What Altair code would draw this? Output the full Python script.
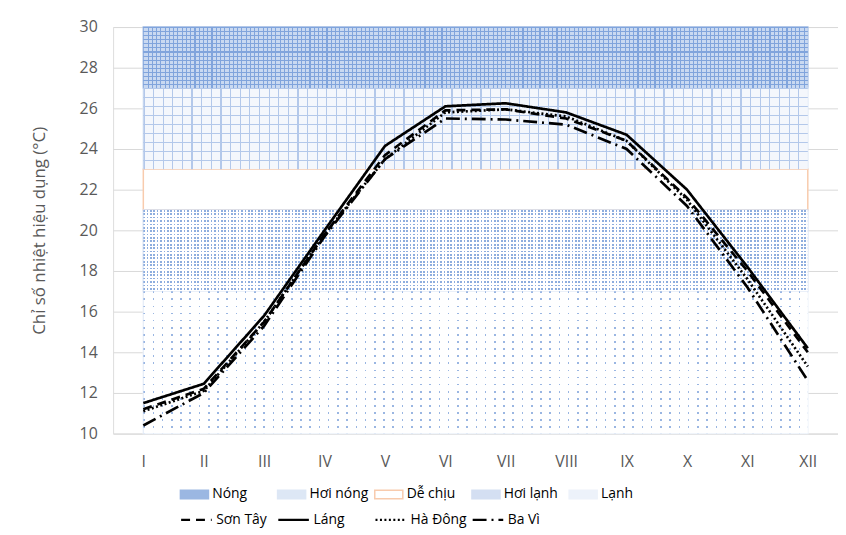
import altair as alt
import pandas as pd

months = ["I", "II", "III", "IV", "V", "VI", "VII", "VIII", "IX", "X", "XI", "XII"]
stations = ["Sơn Tây", "Láng", "Hà Đông", "Ba Vì"]
son_tay = [11.2, 12.2, 15.5, 19.8, 23.7, 25.9, 25.95, 25.5, 24.4, 21.6, 18.0, 14.0]
lang = [11.5, 12.45, 15.8, 20.0, 24.15, 26.1, 26.25, 25.8, 24.7, 22.0, 18.2, 14.2]
ha_dong = [11.1, 12.1, 15.5, 19.8, 23.5, 25.8, 25.95, 25.6, 24.4, 21.5, 17.6, 13.3]
ba_vi = [10.4, 12.0, 15.3, 19.7, 23.5, 25.5, 25.45, 25.2, 24.0, 21.2, 17.2, 12.6]

band_names = ["Nóng", "Hơi nóng", "Dễ chịu", "Hơi lạnh", "Lạnh"]
band_low = [27, 23, 21, 17, 10]
band_high = [30, 27, 23, 21, 17]
band_fill = ["#9bb7e2", "#dde7f5", "#ffffff", "#d4dff2", "#edf2fa"]
band_stroke = ["#9bb7e2", "#dde7f5", "#f8cbad", "#d4dff2", "#edf2fa"]

y_ticks = list(range(10, 31, 2))
dashes = [[9, 6], [1, 0], [2, 2.5], [14, 5, 2, 5]]

series = [son_tay, lang, ha_dong, ba_vi]
rows = []
for s, vals in zip(stations, series):
    for i, v in enumerate(vals):
        rows.append({"m": i + 1, "v": v, "station": s})
lines_df = pd.DataFrame(rows)

bands_df = pd.DataFrame({
    "band": band_names,
    "lo": band_low,
    "hi": band_high,
    "x0": [1] * len(band_names),
    "x1": [len(months)] * len(band_names),
})

label_expr = "[" + ",".join("'" + m + "'" for m in months) + "][datum.value - 1]"
FONT = "Open Sans"
W, H = 731, 410
STEP = W / len(months)
PX_PER_UNIT = H / 20.0


def stripes(n, frac, line_col, bg_col, vertical):
    """Hard-stop linear gradient giving n repeated stripes (texture only)."""
    stops = []
    for k in range(n):
        a = k / n
        b = (k + frac) / n
        c = (k + 1) / n
        stops += [alt.GradientStop(offset=a, color=line_col),
                  alt.GradientStop(offset=b, color=line_col),
                  alt.GradientStop(offset=b, color=bg_col),
                  alt.GradientStop(offset=c, color=bg_col)]
    if vertical:
        return alt.Gradient(gradient="linear", stops=stops, x1=0, y1=0, x2=1, y2=0)
    return alt.Gradient(gradient="linear", stops=stops, x1=0, y1=0, x2=0, y2=1)


def solid(col):
    return alt.Gradient(gradient="linear",
                        stops=[alt.GradientStop(offset=0, color=col),
                               alt.GradientStop(offset=1, color=col)],
                        x1=0, y1=0, x2=1, y2=0)


band_w = STEP * (len(months) - 1)
CLEAR = "rgba(255,255,255,0)"

xscale = alt.Scale(domain=[0.5, len(months) + 0.5], nice=False, zero=False)
yscale = alt.Scale(domain=[10, 30], nice=False, zero=False)

xaxis = alt.Axis(values=list(range(1, len(months) + 1)), labelExpr=label_expr,
                 grid=False, domain=False, ticks=False, labelPadding=20,
                 labelFontSize=16, labelColor="#595959", labelFont=FONT, title=None)
yaxis = alt.Axis(values=y_ticks, grid=True, gridColor="#d9d9d9", gridWidth=1,
                 domain=False, ticks=False, labelPadding=16, labelFontSize=16,
                 labelColor="#595959", labelFont=FONT,
                 title="Chỉ số nhiệt hiệu dụng (°C)", titleFont=FONT,
                 titleFontSize=17, titleFontWeight="normal", titleColor="#595959",
                 titlePadding=31)

band_legend = alt.Legend(title=None, orient="none", legendX=67, legendY=456,
                         direction="horizontal", columns=5,
                         symbolType="M-1,-0.3H1V0.3H-1Z", symbolSize=800,
                         symbolStrokeWidth=1.5, labelFontSize=14, labelOffset=3,
                         labelFont=FONT, labelColor="#000000",
                         columnPadding=2, gridAlign="all")

bands = alt.Chart(bands_df).mark_rect(strokeWidth=1.5).encode(
    x=alt.X("x0:Q", scale=xscale, axis=xaxis),
    x2="x1:Q",
    y=alt.Y("lo:Q", scale=yscale, axis=yaxis),
    y2="hi:Q",
    fill=alt.Fill("band:N", scale=alt.Scale(domain=band_names, range=band_fill),
                  legend=band_legend),
    stroke=alt.Stroke("band:N", scale=alt.Scale(domain=band_names, range=band_stroke),
                      legend=band_legend),
)


def texture(name, grad):
    return alt.Chart(bands_df).transform_filter(alt.datum.band == name).mark_rect(
        fill=grad).encode(
        x=alt.X("x0:Q", scale=xscale, axis=xaxis), x2="x1:Q",
        y=alt.Y("lo:Q", scale=yscale, axis=yaxis), y2="hi:Q")


def band_h(name):
    i = band_names.index(name)
    return (band_high[i] - band_low[i]) * PX_PER_UNIT


textures = []
# Nóng: dense blue grid
n_v = round(band_w / 4.3)
n_h = round(band_h("Nóng") / 4.1)
textures.append(texture("Nóng", stripes(n_h, 1.1 / 4.1, "#80a4dc", "#c9d9f1", False)))
textures.append(texture("Nóng", stripes(n_v, 1.1 / 4.3, "#80a4dc", CLEAR, True)))
# Hơi nóng: light open grid
n_v = round(band_w / 9.7)
n_h = round(band_h("Hơi nóng") / 9.5)
textures.append(texture("Hơi nóng", stripes(n_h, 1.2 / 9.5, "#b3c8ea", "#f4f7fc", False)))
textures.append(texture("Hơi nóng", stripes(n_v, 1.2 / 9.7, "#b3c8ea", CLEAR, True)))
# Hơi lạnh: dense dots
n_v = round(band_w / 3.4)
n_h = round(band_h("Hơi lạnh") / 3.4)
textures.append(texture("Hơi lạnh", solid("#8dadde")))
textures.append(texture("Hơi lạnh", stripes(n_h, 1.7 / 3.4, CLEAR, "#ffffff", False)))
textures.append(texture("Hơi lạnh", stripes(n_v, 1.7 / 3.4, CLEAR, "#ffffff", True)))
# Lạnh: sparse dots
n_v = round(band_w / 9.3)
n_h = round(band_h("Lạnh") / 7.0)
textures.append(texture("Lạnh", solid("#9ab6e2")))
textures.append(texture("Lạnh", stripes(n_h, 1.6 / 7.0, CLEAR, "#ffffff", False)))
textures.append(texture("Lạnh", stripes(n_v, 1.6 / 9.3, CLEAR, "#ffffff", True)))

lines = alt.Chart(lines_df).mark_line(color="black", strokeWidth=2.7).encode(
    x=alt.X("m:Q", scale=xscale, axis=xaxis),
    y=alt.Y("v:Q", scale=yscale, axis=yaxis),
    strokeDash=alt.StrokeDash("station:N",
                              scale=alt.Scale(domain=stations, range=dashes),
                              legend=alt.Legend(title=None, orient="none", legendX=67, legendY=480,
                                                direction="horizontal", columns=4,
                                                symbolType="stroke", symbolSize=950,
                                                symbolStrokeColor="black",
                                                symbolStrokeWidth=2.5, labelFontSize=14,
                                                labelOffset=3,
                                                labelFont=FONT, labelColor="#000000",
                                                columnPadding=0, gridAlign="all")),
    order="m:Q",
)

chart = alt.layer(bands, *textures, lines).properties(
    width=W, height=H,
    padding={"left": 106, "top": 17, "right": 0, "bottom": 95},
    autosize=alt.AutoSizeParams(type="none"),
).configure_view(stroke=None).configure(background="white")

chart.save("out.html", embed_options={"renderer": "svg", "actions": False})
